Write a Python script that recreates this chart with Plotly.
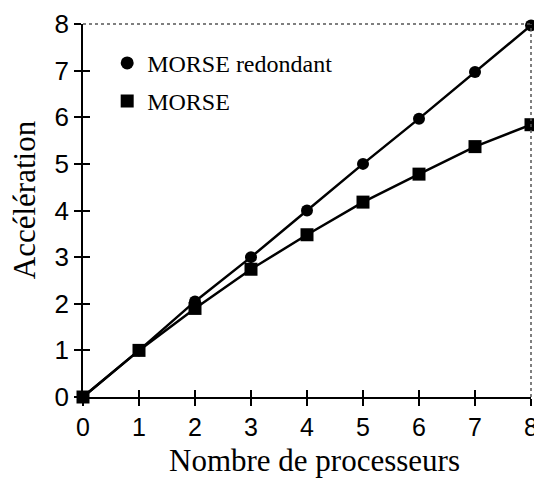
import plotly.graph_objects as go

processeurs = [0, 1, 2, 3, 4, 5, 6, 7, 8]
morse_redondant = [0, 1, 2.05, 3.0, 4.0, 5.0, 5.97, 6.97, 7.97]
morse = [0, 1, 1.9, 2.74, 3.48, 4.18, 4.78, 5.37, 5.84]
tick_vals = [0, 1, 2, 3, 4, 5, 6, 7, 8]
series_names = ["MORSE redondant", "MORSE"]

serif = "Liberation Serif, Times New Roman, serif"
sans = "Liberation Sans, Arial, sans-serif"

fig = go.Figure()
fig.add_trace(go.Scatter(x=processeurs, y=morse_redondant, mode="lines+markers",
                         line=dict(color="black", width=2.5),
                         marker=dict(symbol="circle", size=12, color="black"),
                         showlegend=False, cliponaxis=False))
fig.add_trace(go.Scatter(x=processeurs, y=morse, mode="lines+markers",
                         line=dict(color="black", width=2.5),
                         marker=dict(symbol="square", size=13, color="black"),
                         showlegend=False, cliponaxis=False))
# legend-only entries (markers only), on overlay axes that carry inside ticks
fig.add_trace(go.Scatter(x=[None], y=[None], mode="markers", name=series_names[0],
                         marker=dict(symbol="circle", size=13, color="black"),
                         xaxis="x2", yaxis="y2", legendgroup="a"))
fig.add_trace(go.Scatter(x=[None], y=[None], mode="markers", name=series_names[1],
                         marker=dict(symbol="square", size=13, color="black"),
                         xaxis="x2", yaxis="y2", legendgroup="b"))

axis_common = dict(range=[0, 8], tickvals=tick_vals, showgrid=False, zeroline=False,
                   ticklen=7, tickwidth=1.5, tickcolor="black", automargin=False)

fig.update_layout(
    width=542, height=478,
    margin=dict(l=75, r=19, t=16, b=89),
    paper_bgcolor="white", plot_bgcolor="white",
    xaxis=dict(**axis_common, ticks="outside", showline=True, linecolor="black", linewidth=1.5,
               tickfont=dict(family=sans, size=25, color="black")),
    yaxis=dict(**axis_common, ticks="outside", showline=True, linecolor="black", linewidth=1.5,
               tickfont=dict(family=sans, size=26, color="black")),
    xaxis2=dict(**axis_common, ticks="inside", overlaying="x", anchor="y2", side="bottom",
                showticklabels=False, showline=False),
    yaxis2=dict(**axis_common, ticks="inside", overlaying="y", anchor="x2", side="left",
                showticklabels=False, showline=False),
    legend=dict(x=0.054, y=0.955, xanchor="left", yanchor="top", bgcolor="rgba(0,0,0,0)",
                font=dict(family=serif, size=24, color="black"),
                traceorder="grouped", tracegroupgap=4, itemwidth=30),
    shapes=[
        dict(type="line", xref="paper", yref="paper", x0=0, x1=1, y0=1, y1=1,
             line=dict(color="#555555", width=1.5, dash="dot")),
        dict(type="line", xref="paper", yref="paper", x0=1, x1=1, y0=0, y1=1,
             line=dict(color="#555555", width=1.5, dash="dot")),
    ],
    annotations=[
        dict(text="Accélération", textangle=-90, xref="paper", yref="paper",
             x=-0.132, y=0.53, xanchor="center", yanchor="middle", showarrow=False,
             font=dict(family=serif, size=31, color="black")),
        dict(text="Nombre de processeurs", xref="paper", yref="paper",
             x=0.516, y=-0.17, xanchor="center", yanchor="middle", showarrow=False,
             font=dict(family=serif, size=31, color="black")),
    ],
)

fig.write_html("out.html")
